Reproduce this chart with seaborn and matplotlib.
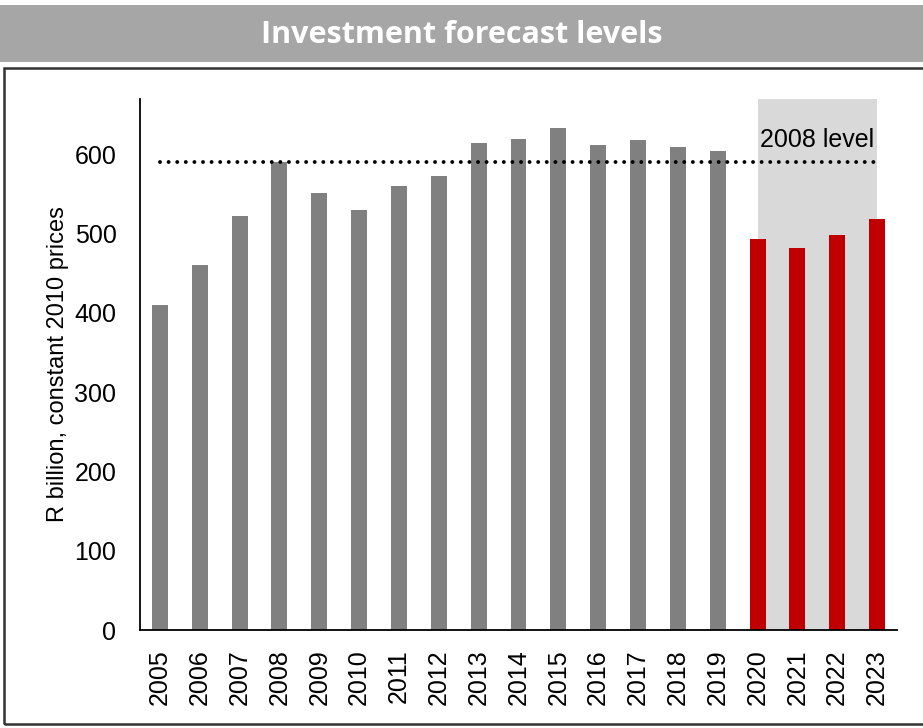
import matplotlib
matplotlib.use("Agg")
import matplotlib.pyplot as plt
from matplotlib.patches import Rectangle
import seaborn as sns
import pandas as pd

years = [str(y) for y in range(2005, 2024)]
investment = [410, 460, 523, 591, 551, 530, 560, 573, 614, 619,
              634, 612, 618, 609, 604, 493, 482, 499, 518]
period = ["Actual"] * 15 + ["Forecast"] * 4
level_2008 = 591
title_text = "Investment forecast levels"
ylabel_text = "R billion, constant 2010 prices"
level_label = "2008 level"

df = pd.DataFrame({"year": years, "value": investment, "period": period})

sns.set_theme(style="white")
plt.rcParams["font.family"] = ["Liberation Sans", "DejaVu Sans"]

fig = plt.figure(figsize=(9.23, 7.28), dpi=100)
ax = fig.add_axes([0.1517, 0.1346, 0.8201, 0.7294])

# forecast window shading
ax.axvspan(15, 18, color="#d9d9d9", zorder=0, lw=0)

sns.barplot(data=df, x="year", y="value", hue="period",
            palette={"Actual": "#808080", "Forecast": "#c00000"},
            dodge=False, width=0.4, legend=False, ax=ax, zorder=2,
            saturation=1, linewidth=0, edgecolor="none")

ax.hlines(level_2008, 0, 18, colors="black", linewidth=2.8,
          linestyles=(0, (0.01, 2.2)), zorder=3, capstyle="round")

ax.text(15.05, 618, level_label, fontsize=18, ha="left", va="center",
        color="black", zorder=4)

ax.set_xlim(-0.5, 18.5)
ax.set_ylim(0, 670)
ax.set_yticks(range(0, 601, 100))
ax.set_xlabel("")
ax.set_ylabel(ylabel_text, fontsize=17, labelpad=4, color="black")
ax.tick_params(axis="y", length=0, pad=17, labelsize=18, labelcolor="black")
ax.tick_params(axis="x", length=0, pad=14, labelsize=18, labelcolor="black",
               rotation=90)
for side in ["top", "right"]:
    ax.spines[side].set_visible(False)
for side in ["left", "bottom"]:
    ax.spines[side].set_color("black")
    ax.spines[side].set_linewidth(1.3)
ax.set_facecolor("none")

# title banner
fig.patches.append(Rectangle((0, 1 - 62 / 728), 1, 57 / 728,
                             transform=fig.transFigure, facecolor="#a6a6a6",
                             edgecolor="none", zorder=0))
fig.text(0.5, 1 - 35 / 728, title_text, ha="center", va="center",
         color="white", fontsize=22, fontweight="bold",
         family=["Open Sans", "DejaVu Sans"])

# frame around the chart
fig.patches.append(Rectangle((4 / 923, 1 - 724 / 728), 1.05, 656 / 728,
                             transform=fig.transFigure, facecolor="none",
                             edgecolor="#333333", linewidth=1.8, zorder=0))

fig.savefig("out.png", dpi=100)
